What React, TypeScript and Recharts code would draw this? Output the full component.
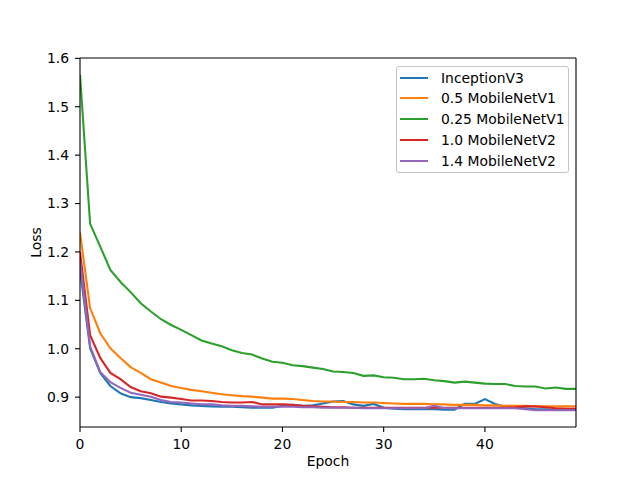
import React from 'react';
import { LineChart, Line, XAxis, YAxis, Legend, ReferenceLine } from 'recharts';

const epochs: number[] = Array.from({ length: 50 }, (_, i) => i);

const inceptionV3 = [
  1.163, 1.001, 0.95, 0.923, 0.908, 0.9, 0.898, 0.894, 0.89, 0.887,
  0.885, 0.883, 0.882, 0.881, 0.88, 0.88, 0.879, 0.878, 0.878, 0.878,
  0.882, 0.884, 0.882, 0.883, 0.887, 0.891, 0.892, 0.885, 0.882, 0.886,
  0.878, 0.876, 0.875, 0.875, 0.875, 0.875, 0.874, 0.874, 0.886, 0.886,
  0.896, 0.886, 0.88, 0.878, 0.877, 0.875, 0.875, 0.874, 0.874, 0.874,
];
const mobileNetV1_05 = [
  1.24, 1.084, 1.032, 1.001, 0.981, 0.962, 0.95, 0.937, 0.93, 0.923,
  0.919, 0.915, 0.912, 0.909, 0.906, 0.904, 0.902, 0.901, 0.899, 0.897,
  0.897, 0.896, 0.894, 0.892, 0.891, 0.891, 0.89, 0.89, 0.889, 0.889,
  0.888, 0.887, 0.886, 0.886, 0.886, 0.885, 0.885, 0.884, 0.884, 0.884,
  0.883, 0.883, 0.882, 0.882, 0.882, 0.881, 0.881, 0.881, 0.881, 0.881,
];
const mobileNetV1_025 = [
  1.566, 1.258, 1.211, 1.163, 1.138, 1.117, 1.094, 1.077, 1.061, 1.049,
  1.039, 1.028, 1.017, 1.011, 1.005, 0.997, 0.991, 0.988, 0.98, 0.973,
  0.971, 0.966, 0.964, 0.961, 0.958, 0.953, 0.952, 0.95, 0.944, 0.945,
  0.941, 0.94, 0.937, 0.937, 0.938, 0.935, 0.933, 0.93, 0.932, 0.93,
  0.928, 0.927, 0.927, 0.923, 0.922, 0.922, 0.918, 0.92, 0.917, 0.917,
];
const mobileNetV2_10 = [
  1.2, 1.028, 0.981, 0.95, 0.937, 0.921, 0.912, 0.908, 0.901, 0.899,
  0.896, 0.893, 0.893, 0.892, 0.89, 0.889, 0.889, 0.89, 0.885, 0.885,
  0.885, 0.884, 0.882, 0.881, 0.88, 0.879, 0.879, 0.878, 0.878, 0.878,
  0.878, 0.878, 0.878, 0.878, 0.878, 0.878, 0.878, 0.878, 0.878, 0.878,
  0.878, 0.878, 0.878, 0.879, 0.881, 0.881, 0.879, 0.877, 0.876, 0.876,
];
const mobileNetV2_14 = [
  1.18, 1.005, 0.952, 0.931, 0.919, 0.909, 0.905, 0.901, 0.894, 0.89,
  0.889, 0.887, 0.885, 0.885, 0.883, 0.882, 0.882, 0.881, 0.88, 0.88,
  0.88, 0.88, 0.879, 0.879, 0.878, 0.878, 0.878, 0.878, 0.877, 0.877,
  0.877, 0.877, 0.877, 0.877, 0.877, 0.882, 0.877, 0.877, 0.877, 0.877,
  0.877, 0.877, 0.877, 0.877, 0.875, 0.873, 0.873, 0.873, 0.873, 0.873,
];

const xTicks = [0, 10, 20, 30, 40];
const yTicks = [0.9, 1.0, 1.1, 1.2, 1.3, 1.4, 1.5, 1.6];
const xDomain: [number, number] = [0, 49];
const yDomain: [number, number] = [0.8383, 1.6007];

const seriesDefs = [
  { key: 'inception', name: 'InceptionV3', color: '#1f77b4', values: inceptionV3 },
  { key: 'mn1_05', name: '0.5 MobileNetV1', color: '#ff7f0e', values: mobileNetV1_05 },
  { key: 'mn1_025', name: '0.25 MobileNetV1', color: '#2ca02c', values: mobileNetV1_025 },
  { key: 'mn2_10', name: '1.0 MobileNetV2', color: '#d62728', values: mobileNetV2_10 },
  { key: 'mn2_14', name: '1.4 MobileNetV2', color: '#9467bd', values: mobileNetV2_14 },
];

const data = epochs.map((e, i) => {
  const row: Record<string, number> = { epoch: e };
  seriesDefs.forEach((s) => {
    row[s.key] = s.values[i];
  });
  return row;
});

const FONT = 'DejaVu Sans, sans-serif';
const FS = 13.9;

const fmtY = (v: number) => v.toFixed(1);

const LegendBox = () => (
  <div
    style={{
      position: 'relative',
      width: 173,
      height: 107,
      boxSizing: 'border-box',
      borderWidth: 1,
      borderStyle: 'solid',
      borderColor: '#c4c4c4',
      borderRadius: 3,
      background: 'rgba(255,255,255,0.8)',
      fontFamily: FONT,
      fontSize: FS,
      color: '#000',
      paddingTop: 0.3,
    }}
  >
    {seriesDefs.map((s) => (
      <div
        key={s.key}
        style={{ display: 'flex', alignItems: 'center', height: 20.8, whiteSpace: 'nowrap' }}
      >
        <span
          style={{
            display: 'inline-block',
            width: 28,
            height: 2,
            marginLeft: 3,
            background: s.color,
          }}
        />
        <span style={{ marginLeft: 13, lineHeight: '16px' }}>{s.name}</span>
      </div>
    ))}
  </div>
);

export default function App() {
  return (
    <div style={{ position: 'absolute', left: 0, top: 0, width: 640, height: 480, background: '#fff' }}>
      <LineChart
        width={640}
        height={480}
        data={data}
        margin={{ top: 58, right: 64, bottom: 0, left: 0 }}
      >
        <XAxis
          xAxisId="x"
          dataKey="epoch"
          type="number"
          domain={xDomain}
          ticks={xTicks}
          allowDataOverflow
          height={53}
          tickSize={5}
          tickMargin={7}
          stroke="#000"
          tick={{ fill: '#000', fontSize: FS, fontFamily: FONT }}
          tickLine={{ stroke: '#000', strokeWidth: 1.1 }}
          axisLine={{ stroke: '#000', strokeWidth: 1.1 }}
          label={{
            value: 'Epoch',
            position: 'insideBottom',
            offset: 14,
            style: { fill: '#000', fontSize: FS, fontFamily: FONT, textAnchor: 'middle' },
          }}
        />
        <YAxis
          yAxisId="y"
          type="number"
          domain={yDomain}
          ticks={yTicks}
          allowDataOverflow
          width={80}
          tickSize={5}
          tickMargin={6}
          tickFormatter={fmtY}
          stroke="#000"
          tick={{ fill: '#000', fontSize: FS, fontFamily: FONT }}
          tickLine={{ stroke: '#000', strokeWidth: 1.1 }}
          axisLine={{ stroke: '#000', strokeWidth: 1.1 }}
          label={{
            value: 'Loss',
            angle: -90,
            position: 'insideLeft',
            offset: 36,
            style: { fill: '#000', fontSize: FS, fontFamily: FONT, textAnchor: 'middle' },
          }}
        />
        {seriesDefs.map((s) => (
          <Line
            key={s.key}
            xAxisId="x"
            yAxisId="y"
            type="linear"
            dataKey={s.key}
            name={s.name}
            stroke={s.color}
            strokeWidth={2.1}
            dot={false}
            activeDot={false}
            isAnimationActive={false}
          />
        ))}
        <ReferenceLine xAxisId="x" yAxisId="y" y={yDomain[1]} stroke="#000" strokeWidth={1.1} ifOverflow="visible" />
        <ReferenceLine xAxisId="x" yAxisId="y" x={xDomain[1]} stroke="#000" strokeWidth={1.1} ifOverflow="visible" />
        <Legend
          layout="horizontal"
          verticalAlign="middle"
          align="center"
          content={() => <LegendBox />}
          wrapperStyle={{ left: 396, top: 66, width: 173, height: 107 }}
        />
      </LineChart>
    </div>
  );
}
